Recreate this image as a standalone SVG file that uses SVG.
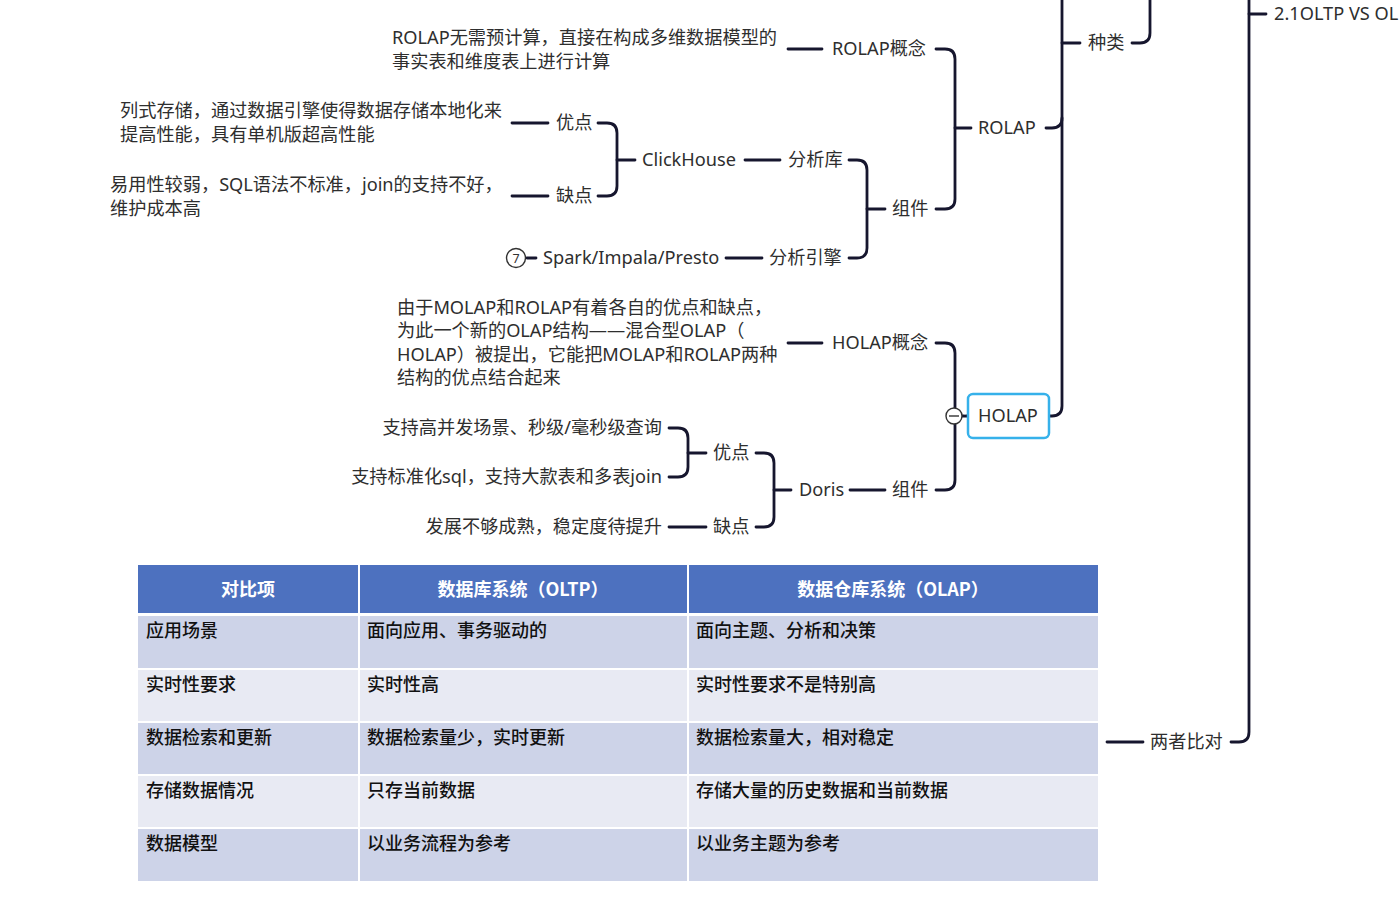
<svg xmlns="http://www.w3.org/2000/svg" width="1400" height="908" viewBox="0 0 1400 908">
<style>
.t{font-family:"Noto Sans","Noto Sans CJK SC",sans-serif;font-size:18.2px;fill:#2e2e2e;dominant-baseline:central}
.e{text-anchor:end}
.c{fill:none;stroke:#16162e;stroke-width:2.8;stroke-linecap:round;stroke-linejoin:round}
.th{font-family:"Noto Sans CJK SC",sans-serif;font-size:18px;font-weight:700;fill:#fff;text-anchor:middle;dominant-baseline:central}
.td{font-family:"Noto Sans CJK SC",sans-serif;font-size:18px;font-weight:500;fill:#111;dominant-baseline:central}
.r1{fill:#cdd3e8}.r2{fill:#e8eaf3}
</style>
<rect width="1400" height="908" fill="#fff"/>
<g id="connectors">
<path class="c" d="M1249,0 V732 Q1249,742 1239,742 H1231"/>
<path class="c" d="M1249,14 H1266"/>
<path class="c" d="M1132,43 H1140 Q1150,43 1150,33 V0"/>
<path class="c" d="M1062,0 V406 Q1062,416 1052,416 H1049"/>
<path class="c" d="M1046,128 H1052 Q1062,128 1062,118"/>
<path class="c" d="M1062,43 H1080"/>
<path class="c" d="M936,49 H945 Q955,49 955,59 V199 Q955,209 945,209 H936"/>
<path class="c" d="M955,128 H971"/>
<path class="c" d="M849,160 H857 Q867,160 867,170 V248 Q867,258 857,258 H849"/>
<path class="c" d="M867,209 H885"/>
<path class="c" d="M598,123 H607 Q617,123 617,133 V186 Q617,196 607,196 H598"/>
<path class="c" d="M617,160 H635"/>
<path class="c" d="M788,49 H822"/>
<path class="c" d="M512,123 H548"/>
<path class="c" d="M512,196 H548"/>
<path class="c" d="M745,160 H780"/>
<path class="c" d="M726,258 H762"/>
<path class="c" d="M527,258 H536"/>
<path class="c" d="M936,343 H945 Q955,343 955,353 V480 Q955,490 945,490 H936"/>
<path class="c" d="M788,343 H822"/>
<path class="c" d="M962,416 H968" stroke-dasharray="2 2"/>
<path class="c" d="M850,490 H885"/>
<path class="c" d="M756,453 H764 Q774,453 774,463 V517 Q774,527 764,527 H756"/>
<path class="c" d="M774,490 H791"/>
<path class="c" d="M669,428 H678 Q688,428 688,438 V467 Q688,477 678,477 H669"/>
<path class="c" d="M688,453 H706"/>
<path class="c" d="M669,527 H706"/>
<path class="c" d="M1107,742 H1143"/>
</g>
<g id="n-oltp"><text class="t" x="1274" y="13">2.1OLTP VS OL</text></g>
<g id="n-zhonglei"><text class="t" x="1088" y="42">种类</text></g>
<g id="n-rolap"><text class="t" x="978" y="127">ROLAP</text></g>
<g id="n-rolap-concept"><text class="t" x="832" y="48">ROLAP概念</text></g>
<g id="n-rolap-desc"><text class="t" x="392" y="37">ROLAP无需预计算，直接在构成多维数据模型的</text><text class="t" x="392" y="61">事实表和维度表上进行计算</text></g>
<g id="n-rolap-comp"><text class="t" x="892" y="208">组件</text></g>
<g id="n-fenxiku"><text class="t" x="788" y="159">分析库</text></g>
<g id="n-clickhouse"><text class="t" x="642" y="159">ClickHouse</text></g>
<g id="n-ch-pro"><text class="t" x="556" y="122">优点</text></g>
<g id="n-ch-pro-desc"><text class="t" x="120" y="110">列式存储，通过数据引擎使得数据存储本地化来</text><text class="t" x="120" y="134">提高性能，具有单机版超高性能</text></g>
<g id="n-ch-con"><text class="t" x="556" y="195">缺点</text></g>
<g id="n-ch-con-desc"><text class="t" x="110" y="184">易用性较弱，SQL语法不标准，join的支持不好，</text><text class="t" x="110" y="208">维护成本高</text></g>
<g id="n-engine"><text class="t" x="769" y="257">分析引擎</text></g>
<g id="n-spark"><circle cx="516" cy="258" r="9.5" fill="#fff" stroke="#333" stroke-width="1.4"/><text x="516" y="258" font-family="Noto Sans,sans-serif" font-size="12.5" fill="#333" text-anchor="middle" dominant-baseline="central">7</text><text class="t" x="543" y="257">Spark/Impala/Presto</text></g>
<g id="n-holap"><rect x="968" y="394" width="81" height="44" rx="5" fill="#fff" stroke="#36b1ea" stroke-width="2.5"/><text class="t" x="978" y="415">HOLAP</text><circle cx="954" cy="416" r="8" fill="#fff" stroke="#333" stroke-width="1.4"/><path d="M949,416 H959" stroke="#333" stroke-width="1.4"/></g>
<g id="n-holap-concept"><text class="t" x="832" y="342">HOLAP概念</text></g>
<g id="n-holap-desc"><text class="t" x="397" y="307">由于MOLAP和ROLAP有着各自的优点和缺点，</text><text class="t" x="397" y="330">为此一个新的OLAP结构——混合型OLAP（</text><text class="t" x="397" y="354">HOLAP）被提出，它能把MOLAP和ROLAP两种</text><text class="t" x="397" y="377">结构的优点结合起来</text></g>
<g id="n-holap-comp"><text class="t" x="892" y="489">组件</text></g>
<g id="n-doris"><text class="t" x="799" y="489">Doris</text></g>
<g id="n-doris-pro"><text class="t" x="713" y="452">优点</text></g>
<g id="n-doris-pro1"><text class="t e" x="662" y="427">支持高并发场景、秒级/毫秒级查询</text></g>
<g id="n-doris-pro2"><text class="t e" x="662" y="476">支持标准化sql，支持大款表和多表join</text></g>
<g id="n-doris-con"><text class="t" x="713" y="526">缺点</text></g>
<g id="n-doris-con1"><text class="t e" x="662" y="526">发展不够成熟，稳定度待提升</text></g>
<g id="n-compare"><text class="t" x="1150" y="741">两者比对</text></g>
<g id="n-table">
<rect x="138" y="565" width="960" height="48" fill="#4d71bf"/>
<rect class="r1" x="138" y="616" width="960" height="52"/>
<rect class="r2" x="138" y="670" width="960" height="51"/>
<rect class="r1" x="138" y="723" width="960" height="51"/>
<rect class="r2" x="138" y="776" width="960" height="51"/>
<rect class="r1" x="138" y="829" width="960" height="52"/>
<path d="M359,565 V881 M688,565 V881" stroke="#fff" stroke-width="2"/>
<text class="th" x="248" y="588">对比项</text>
<text class="th" x="523" y="588">数据库系统（OLTP）</text>
<text class="th" x="893" y="588">数据仓库系统（OLAP）</text>
<text class="td" x="146" y="629">应用场景</text><text class="td" x="367" y="629">面向应用、事务驱动的</text><text class="td" x="696" y="629">面向主题、分析和决策</text>
<text class="td" x="146" y="683">实时性要求</text><text class="td" x="367" y="683">实时性高</text><text class="td" x="696" y="683">实时性要求不是特别高</text>
<text class="td" x="146" y="736">数据检索和更新</text><text class="td" x="367" y="736">数据检索量少，实时更新</text><text class="td" x="696" y="736">数据检索量大，相对稳定</text>
<text class="td" x="146" y="789">存储数据情况</text><text class="td" x="367" y="789">只存当前数据</text><text class="td" x="696" y="789">存储大量的历史数据和当前数据</text>
<text class="td" x="146" y="842">数据模型</text><text class="td" x="367" y="842">以业务流程为参考</text><text class="td" x="696" y="842">以业务主题为参考</text>
</g>
</svg>
